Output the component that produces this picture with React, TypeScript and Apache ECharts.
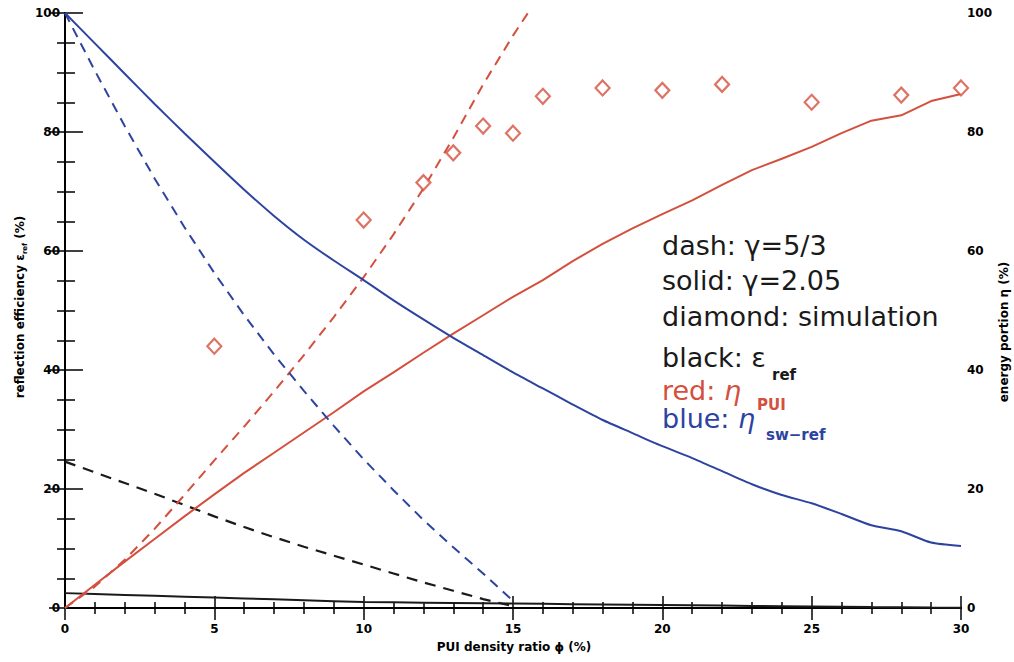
import React, { useEffect, useRef } from "react";
import * as echarts from "echarts";

// ---------- data ----------
const phiSolid = [0,1,2,3,4,5,6,7,8,9,10,11,12,13,14,15,16,17,18,19,20,21,22,23,24,25,26,27,28,29,30];
const phiDash = [0,1,2,3,4,5,6,7,8,9,10,11,12,13,14,15];
const phiDashRed = [0,1,2,3,4,5,6,7,8,9,10,11,12,13,14,15,16];

// black: epsilon_ref
const blackSolid = [2.5,2.35,2.2,2.05,1.9,1.75,1.6,1.45,1.3,1.15,1.0,0.95,0.9,0.85,0.8,0.75,0.7,0.65,0.6,0.55,0.5,0.45,0.4,0.35,0.3,0.25,0.2,0.15,0.12,0.08,0.05];
const blackDash = [24.6,22.8,21.0,19.2,17.3,15.4,13.6,11.9,10.3,8.8,7.3,5.8,4.3,2.9,1.5,0.3];
// red: eta_PUI
const redSolid = [0,3.9,7.8,11.6,15.4,19.1,22.7,26.1,29.5,32.9,36.4,39.6,42.9,46.1,49.2,52.3,55.1,58.3,61.2,63.8,66.2,68.5,71.1,73.6,75.5,77.5,79.8,81.9,82.8,85.2,86.4];
const redDash = [0,3.6,8.1,13.3,19,24.8,30.5,36.4,42.5,48.9,55.6,62.8,70.5,79,88,96.2,103.8];
// blue: eta_sw-ref
const blueSolid = [100,94.9,89.8,84.7,79.8,75.0,70.3,65.9,61.9,58.4,55.1,51.7,48.5,45.4,42.5,39.6,36.9,34.2,31.6,29.4,27.2,25.2,23.0,20.8,19.0,17.6,15.8,13.9,12.9,11.0,10.4];
const blueDash = [100,90.3,81,72.2,64,56.3,49.2,42.6,36.5,30.6,25,19.8,14.8,10.2,5.8,1.2];
// diamonds: simulation
const simPhi = [5,10,12,13,14,15,16,18,20,22,25,28,30];
const simEta = [44,65.2,71.5,76.5,81,79.8,86,87.4,87,88,85,86.2,87.4];

const xTicks = [0, 5, 10, 15, 20, 25, 30];
const yTicks = [0, 20, 40, 60, 80, 100];

const RED = "#d4503e";
const BLUE = "#2d43a0";
const BLACK = "#1a1a1a";

const pair = (xs: number[], ys: number[]) => xs.map((x, i) => [x, ys[i]]);

export default function App() {
  const ref = useRef<HTMLDivElement>(null);
  useEffect(() => {
    if (!ref.current) return;
    const chart = echarts.init(ref.current, null, { renderer: "svg" });
    const labelFont = { fontFamily: "DejaVu Sans", fontWeight: "bold" as const, fontSize: 12, color: "#000" };
    const axisLine = { show: true, lineStyle: { color: "#000", width: 2 } };
    const xCommon = {
      type: "value" as const,
      min: xTicks[0],
      max: xTicks[xTicks.length - 1],
      interval: 5,
      axisLine,
      splitLine: { show: false },
      axisTick: { show: true, inside: true, length: 12, lineStyle: { color: "#000", width: 1.5 } },
      minorTick: { show: true, splitNumber: 5, length: 6, lineStyle: { color: "#000", width: 1.5 } },
      minorSplitLine: { show: false },
    };
    const yCommon = {
      type: "value" as const,
      min: yTicks[0],
      max: yTicks[yTicks.length - 1],
      interval: 20,
      axisLine,
      splitLine: { show: false },
      minorSplitLine: { show: false },
    };
    const legendFont = "DejaVu Sans";
    const t = (x: number, y: number, text: string, size: number, color: string, extra: any = {}) => ({
      type: "text",
      x,
      y,
      silent: true,
      style: { text, fontFamily: legendFont, fontSize: size, fill: color, align: "left", verticalAlign: "middle", ...extra },
    });
    chart.setOption({
      animation: false,
      backgroundColor: "#fff",
      grid: { left: 65, right: 53, top: 13, bottom: 54, containLabel: false },
      xAxis: [
        { ...xCommon, position: "bottom", axisLabel: { ...labelFont, margin: 15 } },
        { ...xCommon, position: "top", axisLabel: { show: false } },
      ],
      yAxis: [
        {
          ...yCommon,
          position: "left",
          axisTick: { show: true, inside: true, length: 18, lineStyle: { color: "#000", width: 1.5 } },
          minorTick: { show: true, splitNumber: 4, length: 10, lineStyle: { color: "#000", width: 1.5 } },
          axisLabel: { ...labelFont, margin: 5 },
        },
        {
          ...yCommon,
          position: "right",
          axisTick: { show: true, inside: true, length: 16, lineStyle: { color: "#000", width: 1.5 } },
          minorTick: { show: true, splitNumber: 4, length: 8, lineStyle: { color: "#000", width: 1.5 } },
          axisLabel: { ...labelFont, margin: 6 },
        },
      ],
      series: [
        { type: "line", name: "black solid", data: pair(phiSolid, blackSolid), symbol: "none", lineStyle: { color: BLACK, width: 2 }, z: 3 },
        { type: "line", name: "black dash", data: pair(phiDash, blackDash), symbol: "none", lineStyle: { color: BLACK, width: 2.2, type: [11, 8] }, z: 3 },
        { type: "line", name: "red solid", data: pair(phiSolid, redSolid), symbol: "none", lineStyle: { color: RED, width: 2 }, z: 3 },
        { type: "line", name: "red dash", data: pair(phiDashRed, redDash), symbol: "none", lineStyle: { color: RED, width: 2, type: [10, 7] }, z: 3 },
        { type: "line", name: "blue solid", data: pair(phiSolid, blueSolid), symbol: "none", smooth: 0.2, lineStyle: { color: BLUE, width: 2 }, z: 3 },
        { type: "line", name: "blue dash", data: pair(phiDash, blueDash), symbol: "none", lineStyle: { color: BLUE, width: 2, type: [10, 7] }, z: 3 },
        {
          type: "scatter",
          name: "simulation",
          data: pair(simPhi, simEta),
          symbol: "diamond",
          symbolSize: [14, 15],
          itemStyle: { color: "#fff", borderColor: RED, borderWidth: 2.2 },
          z: 4,
        },
      ],
      graphic: [
        // axis titles
        {
          type: "text",
          x: 20,
          y: 307,
          rotation: Math.PI / 2,
          silent: true,
          style: {
            text: "{a|reflection efficiency ε}{s|ref}{a| (%)}",
            align: "center",
            verticalAlign: "middle",
            fill: "#000",
            rich: {
              a: { fontFamily: "DejaVu Sans", fontWeight: "bold", fontSize: 12, lineHeight: 16, fill: "#000" },
              s: { fontFamily: "DejaVu Sans", fontWeight: "bold", fontSize: 7, lineHeight: 8, verticalAlign: "bottom", fill: "#000" },
            },
          },
        },
        {
          type: "text",
          x: 1004,
          y: 332,
          rotation: Math.PI / 2,
          silent: true,
          style: {
            text: "energy portion η (%)",
            align: "center",
            verticalAlign: "middle",
            fill: "#000",
            fontFamily: "DejaVu Sans",
            fontWeight: "bold",
            fontSize: 12,
          },
        },
        {
          type: "text",
          x: 514,
          y: 647,
          silent: true,
          style: {
            text: "PUI density ratio ϕ (%)",
            align: "center",
            verticalAlign: "middle",
            fill: "#000",
            fontFamily: "DejaVu Sans",
            fontWeight: "bold",
            fontSize: 12,
          },
        },
        // legend block
        t(662, 245, "dash: γ=5/3", 27, BLACK),
        t(662, 280, "solid: γ=2.05", 27, BLACK),
        t(662, 316, "diamond: simulation", 27, BLACK),
        t(662, 357, "black: ε", 27, BLACK),
        t(772, 375, "ref", 15, BLACK, { fontWeight: "bold" }),
        {
          type: "text",
          x: 662,
          y: 390,
          silent: true,
          style: {
            text: "{a|red: }{i|η}",
            align: "left",
            verticalAlign: "middle",
            rich: {
              a: { fontFamily: legendFont, fontSize: 27, fill: RED },
              i: { fontFamily: legendFont, fontSize: 27, fontStyle: "italic", fill: RED },
            },
          },
        },
        t(757, 405, "PUI", 15, RED, { fontWeight: "bold" }),
        {
          type: "text",
          x: 662,
          y: 418,
          silent: true,
          style: {
            text: "{a|blue: }{i|η}",
            align: "left",
            verticalAlign: "middle",
            rich: {
              a: { fontFamily: legendFont, fontSize: 27, fill: BLUE },
              i: { fontFamily: legendFont, fontSize: 27, fontStyle: "italic", fill: BLUE },
            },
          },
        },
        t(766, 435, "sw−ref", 15, BLUE, { fontWeight: "bold" }),
      ],
    });
    return () => chart.dispose();
  }, []);
  return (
    <div
      ref={ref}
      style={{ position: "fixed", left: 0, top: 0, width: 1014, height: 662, background: "#fff" }}
    />
  );
}
